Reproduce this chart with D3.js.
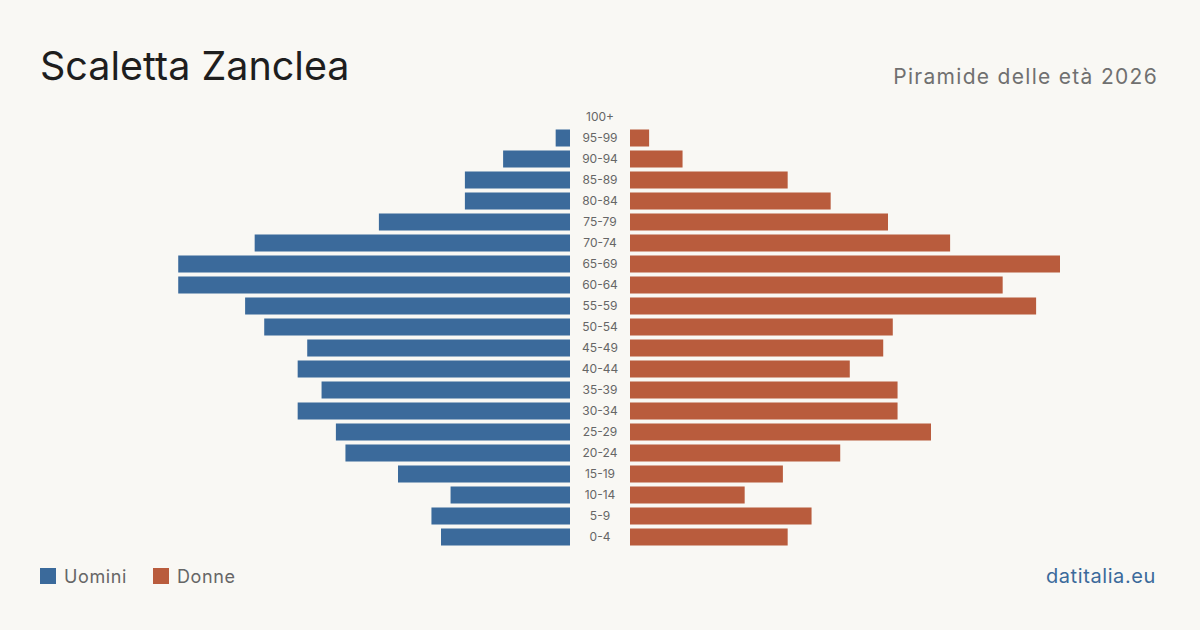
<!DOCTYPE html>
<html>
<head>
<meta charset="utf-8">
<script src="https://cdn.jsdelivr.net/npm/d3@7"></script>
<style>
  html, body { margin: 0; padding: 0; background: #f9f8f4; }
  svg { display: block; font-family: Inter, "Noto Sans", sans-serif; }
</style>
</head>
<body>
<script>
// fasce di eta, dall'alto verso il basso
var ages = ["100+","95-99","90-94","85-89","80-84","75-79","70-74","65-69","60-64","55-59",
            "50-54","45-49","40-44","35-39","30-34","25-29","20-24","15-19","10-14","5-9","0-4"];
var uomini = [0,3,14,22,22,40,66,82,82,68,64,55,57,52,57,49,47,36,25,29,27];
var donne  = [0,4,11,33,42,54,67,90,78,85,55,53,46,56,56,63,44,32,24,38,33];

var W = 1200, H = 630;
var blue = "#3b6a9b", red = "#b95c3d";

var svg = d3.select("body").append("svg")
    .attr("width", W).attr("height", H);

svg.append("rect").attr("width", W).attr("height", H).attr("fill", "#f9f8f4");

// titolo
svg.append("text").attr("x", 40).attr("y", 80)
    .attr("font-size", 39.5).attr("fill", "#1e1e1e").text("Scaletta Zanclea");
svg.append("text").attr("x", 1158).attr("y", 84)
    .attr("text-anchor", "end").attr("font-size", 21).attr("fill", "#707070")
    .attr("letter-spacing", "1.3px")
    .text("Piramide delle età 2026");

// scale
var y = d3.scaleBand().domain(ages).range([106.5, 547.5]).paddingInner(0.19).paddingOuter(0.095);
var x = d3.scaleLinear().domain([0, 90]).range([0, 430]);
var cx = 600, gap = 30;

svg.append("g").selectAll("rect").data(ages).enter().append("rect")
    .attr("x", function(d, i){ return cx - gap - x(uomini[i]); })
    .attr("y", function(d){ return y(d); })
    .attr("width", function(d, i){ return x(uomini[i]); })
    .attr("height", y.bandwidth())
    .attr("fill", blue);

svg.append("g").selectAll("rect").data(ages).enter().append("rect")
    .attr("x", cx + gap)
    .attr("y", function(d){ return y(d); })
    .attr("width", function(d, i){ return x(donne[i]); })
    .attr("height", y.bandwidth())
    .attr("fill", red);

svg.append("g").selectAll("text").data(ages).enter().append("text")
    .attr("x", cx)
    .attr("y", function(d){ return y(d) + y.bandwidth() / 2; })
    .attr("dy", "0.35em")
    .attr("text-anchor", "middle")
    .attr("font-size", 12).attr("fill", "#666")
    .text(function(d){ return d; });

// legenda
var leg = [["Uomini", blue, 40], ["Donne", red, 153]];
leg.forEach(function(l){
    svg.append("rect").attr("x", l[2]).attr("y", 568).attr("width", 16).attr("height", 16).attr("fill", l[1]);
    svg.append("text").attr("x", l[2] + 24).attr("y", 583)
        .attr("font-size", 18).attr("fill", "#666").attr("letter-spacing", "0.6px").text(l[0]);
});

svg.append("text").attr("x", 1156).attr("y", 583)
    .attr("text-anchor", "end").attr("font-size", 20).attr("fill", blue)
    .attr("letter-spacing", "0.6px")
    .text("datitalia.eu");
</script>
</body>
</html>
